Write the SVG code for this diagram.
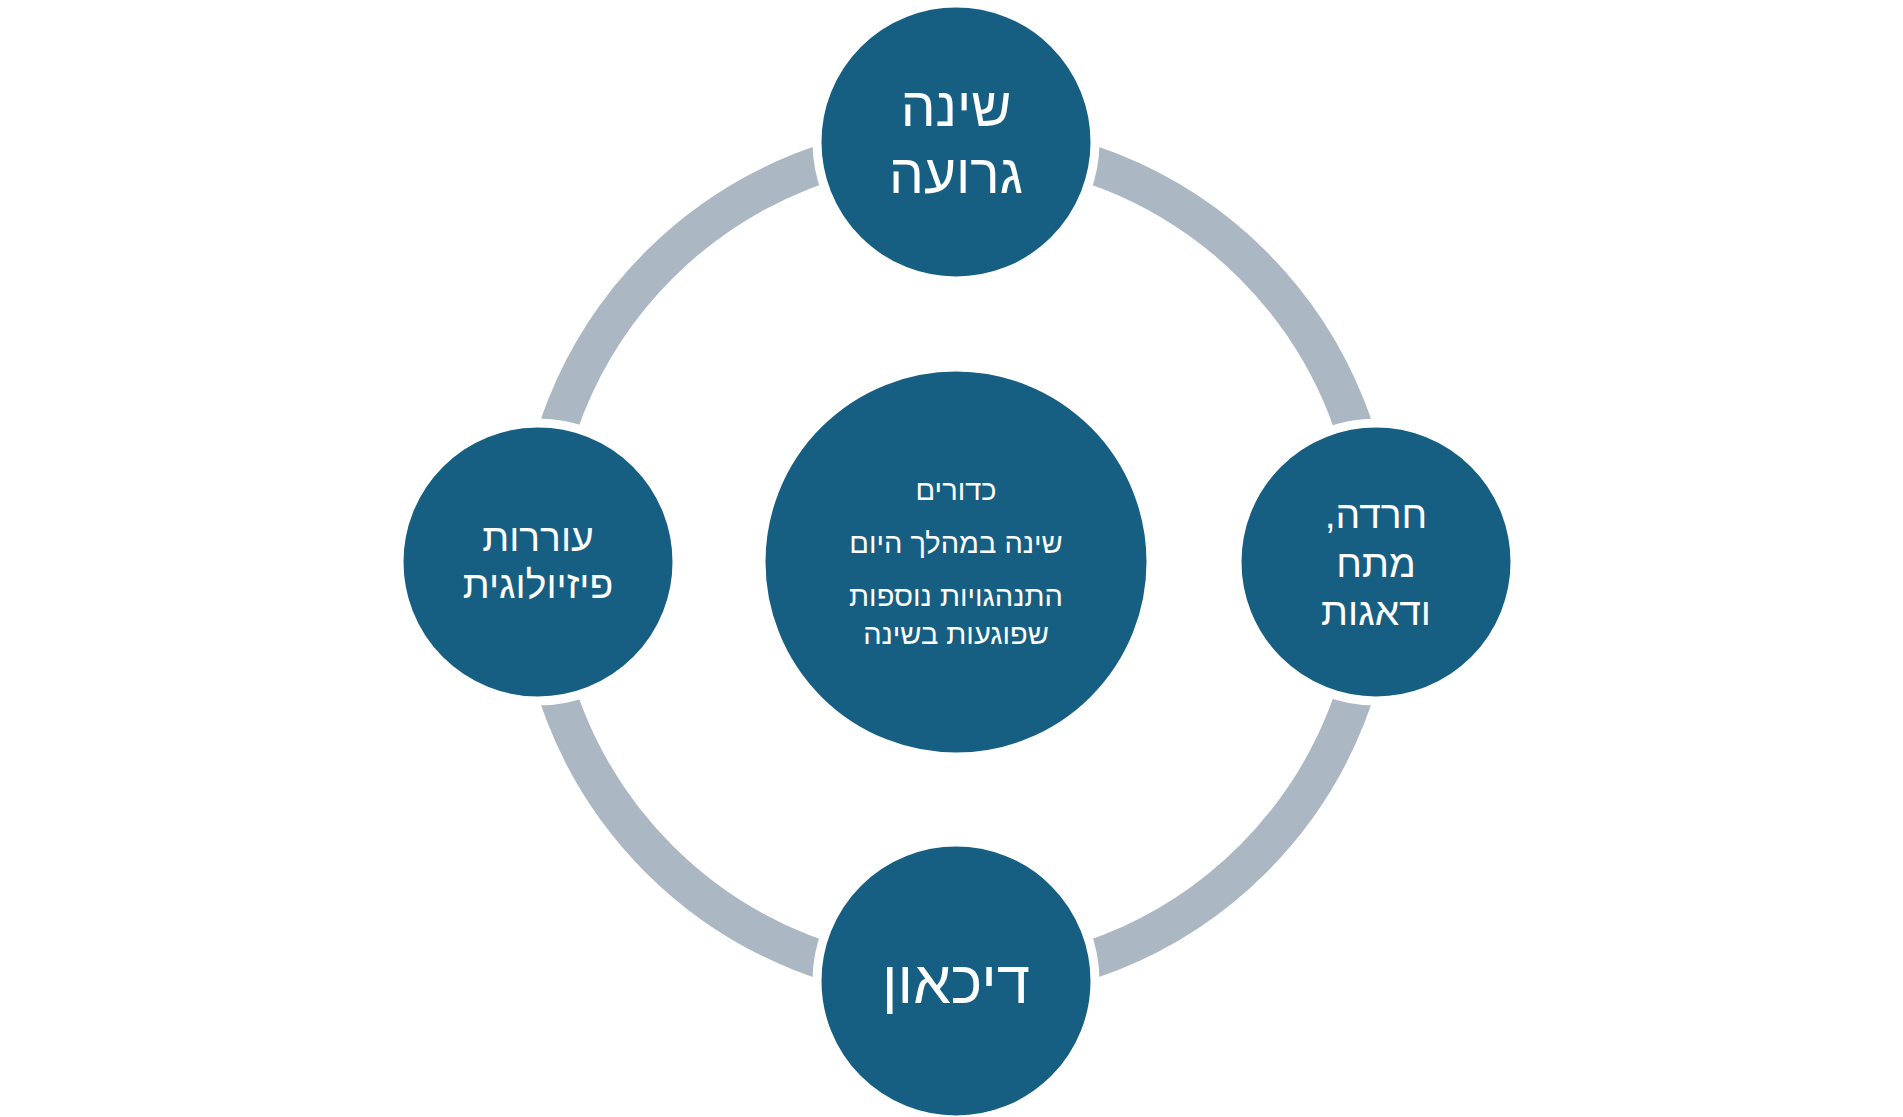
<svg xmlns="http://www.w3.org/2000/svg" width="1903" height="1117" viewBox="0 0 1903 1117">
<style>
.n{fill:#175f82;stroke:#fff;stroke-width:9}
.t{fill:#fff;font-family:"Liberation Sans","DejaVu Sans",sans-serif;text-anchor:middle;direction:rtl}
</style>
<rect width="1903" height="1117" fill="#fff"/>
<g id="connectors"><circle cx="956" cy="562" r="420" fill="none" stroke="#abb7c2" stroke-width="38"/></g>
<g id="center"><circle class="n" cx="956" cy="562" r="195"/>
<text class="t" font-size="29" x="956" y="500">כדורים</text>
<text class="t" font-size="29" x="956" y="553">שינה במהלך היום</text>
<text class="t" font-size="29" x="956" y="606">התנהגויות נוספות</text>
<text class="t" font-size="29" x="956" y="644">שפוגעות בשינה</text></g>
<g id="top"><circle class="n" cx="956" cy="142" r="139"/>
<text class="t" font-size="55" x="956" y="126">שינה</text>
<text class="t" font-size="55" x="956" y="193">גרועה</text></g>
<g id="right"><circle class="n" cx="1376" cy="562" r="139"/>
<text class="t" font-size="39" x="1376" y="528">חרדה,</text>
<text class="t" font-size="39" x="1376" y="577">מתח</text>
<text class="t" font-size="39" x="1376" y="625">ודאגות</text></g>
<g id="bottom"><circle class="n" cx="956" cy="981" r="139"/>
<text class="t" font-size="60" x="956" y="1003">דיכאון</text></g>
<g id="left"><circle class="n" cx="538" cy="562" r="139"/>
<text class="t" font-size="39" x="538" y="551">עוררות</text>
<text class="t" font-size="39" x="538" y="598">פיזיולוגית</text></g>
</svg>
